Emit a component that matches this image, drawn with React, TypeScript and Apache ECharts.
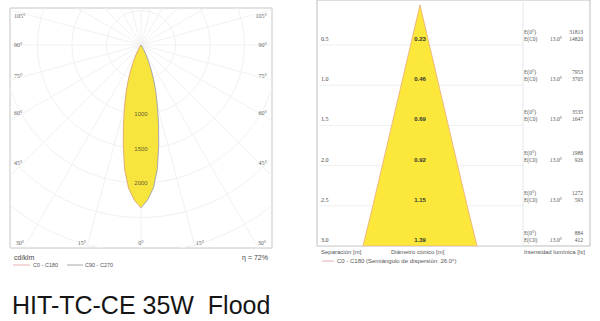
import React, { useEffect, useRef } from 'react';
import * as echarts from 'echarts';

// ---------- Polar (left) data ----------
const lobeAngles = [0, 2.5, 5, 7.5, 10, 12.5, 15, 17.5, 20, 22.5, 25, 27.5, 30, 35, 40];
const lobeC0C180 = [2360, 2250, 2080, 1820, 1480, 1180, 920, 720, 540, 380, 250, 150, 80, 20, 0];
const lobeC90C270 = [2360, 2245, 2075, 1815, 1478, 1178, 918, 718, 538, 378, 248, 148, 78, 18, 0];
const gridCircles = [500, 1000, 1500, 2000, 2500, 3000, 3500];
const radialAngles = [0, 15, 30, 45, 60, 75, 90, 105, 120, 135, 150, 165, 180, 195, 210, 225, 240, 255, 270, 285, 300, 315, 330, 345];
const radialTickLabels = [1000, 1500, 2000];
const sideAngleLabels = ['105°', '90°', '75°', '60°', '45°'];
const bottomAngleLabels = ['30°', '15°', '0°', '15°', '30°'];
const efficiencyLabel = 'η = 72%';

// ---------- Cone (right) data ----------
const distances = [0.5, 1.0, 1.5, 2.0, 2.5, 3.0];
const diameters = [0.23, 0.46, 0.69, 0.92, 1.15, 1.39];
const illumCenter = [31813, 7953, 3535, 1988, 1272, 884];
const illumEdge = [14820, 3705, 1647, 926, 593, 412];
const beamHalfAngle = [13.0, 13.0, 13.0, 13.0, 13.0, 13.0];
const dispersionAngle = '26.0°';

const title = 'HIT-TC-CE 35W  Flood';

const rad = (a: number) => (a * Math.PI) / 180;

function txt(text: string, x: number, y: number, o: any = {}) {
  const align = o.align ?? 'left';
  const va = o.va ?? 'middle';
  return {
    type: 'text',
    x,
    y,
    silent: true,
    z: o.z ?? 10,
    style: {
      text,
      fill: o.color ?? '#555',
      fontSize: o.size ?? 6,
      fontFamily: o.family ?? 'Liberation Sans',
      fontWeight: o.weight ?? 'normal',
      align,
      textAlign: align,
      verticalAlign: va,
      textVerticalAlign: va,
    },
  };
}

function buildOption(): any {
  // left panel geometry (px)
  const L = { left: 10, top: 8, width: 262, height: 240 };
  const cx = 141;
  const cy = 45;
  const pxPerCd = 34.5 / 500;
  const xHalf = (cx - L.left) / pxPerCd;
  const yTop = (cy - L.top) / pxPerCd;
  const yBot = (L.top + L.height - cy) / pxPerCd;

  // right panel geometry
  const R = { left: 317, top: -5, width: 273, height: 251 };
  const dMin = -0.06;
  const dMax = 3.0;
  const pxPerM = R.height / (dMax - dMin);
  const coneCx = 420;
  const xMinR = -(coneCx - R.left) / pxPerM;
  const xMaxR = (R.left + R.width - coneCx) / pxPerM;
  const sepX = -xMinR; // table separator symmetric to left border

  const rightPts = lobeAngles.map((a, i) => [lobeC90C270[i] * Math.sin(rad(a)), lobeC90C270[i] * Math.cos(rad(a))]);
  const leftPts = lobeAngles.map((a, i) => [-lobeC0C180[i] * Math.sin(rad(a)), lobeC0C180[i] * Math.cos(rad(a))]);

  const hidden = {
    axisLine: { show: false },
    axisTick: { show: false },
    axisLabel: { show: false },
    splitLine: { show: false },
  };

  const graphic: any[] = [];
  // polar angle labels
  const sideY = [16, 45, 76, 113, 163];
  sideAngleLabels.forEach((t, i) => {
    graphic.push(txt(t, 14, sideY[i], { family: 'Liberation Serif', size: 6, color: '#666' }));
    graphic.push(txt(t, 267, sideY[i], { family: 'Liberation Serif', size: 6, color: '#666', align: 'right' }));
  });
  const bottomX = [20, 82, 141, 200, 262];
  bottomAngleLabels.forEach((t, i) => {
    graphic.push(txt(t, bottomX[i], 243, { family: 'Liberation Serif', size: 6, color: '#666', align: 'center' }));
  });
  graphic.push(txt('cd/klm', 14, 257, { size: 7, color: '#444' }));
  graphic.push(txt(efficiencyLabel, 268, 257, { size: 7, color: '#444', align: 'right' }));
  graphic.push({ type: 'line', shape: { x1: 13, y1: 265, x2: 30, y2: 265 }, style: { stroke: '#eab0b0', lineWidth: 1 } });
  graphic.push(txt('C0 - C180', 33, 265, { size: 5.5, color: '#555' }));
  graphic.push({ type: 'line', shape: { x1: 67, y1: 265, x2: 83, y2: 265 }, style: { stroke: '#a8a8b0', lineWidth: 1 } });
  graphic.push(txt('C90 - C270', 85, 265, { size: 5.5, color: '#555' }));

  // right panel captions
  graphic.push(txt('Separación [m]', 321, 252, { size: 6, color: '#555' }));
  graphic.push(txt('Diámetro cónico [m]', 391, 252, { size: 6, color: '#555' }));
  graphic.push(txt('Intensidad lumínica [lx]', 585, 252, { size: 6, color: '#555', align: 'right' }));
  graphic.push({ type: 'line', shape: { x1: 322, y1: 261, x2: 334, y2: 261 }, style: { stroke: '#eab0b0', lineWidth: 1 } });
  graphic.push(txt('C0 - C180 (Semiángulo de dispersión: ' + dispersionAngle + ')', 337, 261, { size: 6, color: '#555' }));

  // title
  graphic.push(txt(title, 12, 305, { size: 25, color: '#151515', family: 'Liberation Sans' }));

  return {
    animation: false,
    backgroundColor: '#ffffff',
    graphic: { elements: graphic },
    grid: [
      { left: L.left, top: L.top, width: L.width, height: L.height, show: true, borderColor: '#c6c6c6', borderWidth: 1, backgroundColor: 'transparent' },
      { left: R.left, top: R.top, width: R.width, height: R.height, show: true, borderColor: '#bdbdbd', borderWidth: 1, backgroundColor: 'transparent' },
    ],
    xAxis: [
      { type: 'value', gridIndex: 0, min: -xHalf, max: xHalf, ...hidden },
      { type: 'value', gridIndex: 1, min: xMinR, max: xMaxR, ...hidden },
    ],
    yAxis: [
      { type: 'value', gridIndex: 0, min: -yTop, max: yBot, inverse: true, ...hidden },
      { type: 'value', gridIndex: 1, min: dMin, max: dMax, inverse: true, ...hidden },
    ],
    series: [
      // polar circles
      {
        type: 'custom',
        xAxisIndex: 0,
        yAxisIndex: 0,
        clip: true,
        silent: true,
        data: gridCircles.map((r) => [r, 0]),
        renderItem: (params: any, api: any) => {
          const c = api.coord([0, 0]);
          const rr = api.size([api.value(0), 0])[0];
          return { type: 'circle', shape: { cx: c[0], cy: c[1], r: rr }, style: { fill: 'none', stroke: '#f1f1f1', lineWidth: 1 } };
        },
      },
      // radial lines
      {
        type: 'custom',
        xAxisIndex: 0,
        yAxisIndex: 0,
        clip: true,
        silent: true,
        data: radialAngles.map((a) => [a, 0]),
        renderItem: (params: any, api: any) => {
          const a = rad(api.value(0));
          const c = api.coord([0, 0]);
          const p = api.coord([4000 * Math.sin(a), 4000 * Math.cos(a)]);
          return { type: 'line', shape: { x1: c[0], y1: c[1], x2: p[0], y2: p[1] }, style: { stroke: '#f1f1f1', lineWidth: 1 } };
        },
      },
      // lobe fill
      {
        type: 'custom',
        xAxisIndex: 0,
        yAxisIndex: 0,
        clip: true,
        silent: true,
        data: [[0, 0]],
        renderItem: (params: any, api: any) => {
          const pts = rightPts.concat(leftPts.slice().reverse()).map((p) => api.coord(p));
          return { type: 'polygon', shape: { points: pts }, style: { fill: '#f7e43c', stroke: 'none' } };
        },
      },
      {
        name: 'C0 - C180',
        type: 'line',
        xAxisIndex: 0,
        yAxisIndex: 0,
        data: leftPts,
        symbol: 'none',
        silent: true,
        lineStyle: { color: '#d99a70', width: 0.8 },
      },
      {
        name: 'C90 - C270',
        type: 'line',
        xAxisIndex: 0,
        yAxisIndex: 0,
        data: rightPts,
        symbol: 'none',
        silent: true,
        lineStyle: { color: '#9096b0', width: 0.8 },
      },
      {
        type: 'scatter',
        xAxisIndex: 0,
        yAxisIndex: 0,
        symbolSize: 0,
        silent: true,
        data: radialTickLabels.map((v) => [0, v]),
        label: {
          show: true,
          position: 'inside',
          formatter: (p: any) => String(p.value[1]),
          fontSize: 6,
          fontFamily: 'Liberation Sans',
          color: '#333',
        },
      },
      // cone
      {
        type: 'custom',
        xAxisIndex: 1,
        yAxisIndex: 1,
        clip: true,
        silent: true,
        data: [[0, 0]],
        renderItem: (params: any, api: any) => {
          const apex = api.coord([api.value(0), api.value(1)]);
          const right = distances.map((d, i) => api.coord([diameters[i] / 2, d]));
          const left = distances.map((d, i) => api.coord([-diameters[i] / 2, d])).reverse();
          const pts = [apex].concat(right, left);
          return { type: 'polygon', shape: { points: pts }, style: { fill: '#fbe83a', stroke: '#eeaa80', lineWidth: 0.8 } };
        },
      },
      // row lines + separator
      {
        type: 'custom',
        xAxisIndex: 1,
        yAxisIndex: 1,
        clip: true,
        silent: true,
        z: 1,
        data: distances.map((d) => [0, d]),
        renderItem: (params: any, api: any) => {
          const d = api.value(1);
          const a = api.coord([xMinR, d]);
          const b = api.coord([sepX, d]);
          const children: any[] = [
            { type: 'line', shape: { x1: a[0], y1: a[1], x2: b[0], y2: b[1] }, style: { stroke: '#efefef', lineWidth: 1 } },
          ];
          if (params.dataIndex === 0) {
            const s1 = api.coord([sepX, dMin]);
            const s2 = api.coord([sepX, dMax]);
            children.push({ type: 'line', shape: { x1: s1[0], y1: s1[1], x2: s2[0], y2: s2[1] }, style: { stroke: '#e8e8e8', lineWidth: 1 } });
          }
          return { type: 'group', children };
        },
      },
      // row texts
      {
        type: 'custom',
        xAxisIndex: 1,
        yAxisIndex: 1,
        clip: false,
        silent: true,
        z: 5,
        data: distances.map((d) => [0, d]),
        renderItem: (params: any, api: any) => {
          const i = params.dataIndex;
          const d = api.value(1);
          const pL = api.coord([xMinR, d]);
          const pC = api.coord([0, d]);
          const pT = api.coord([sepX, d]);
          const y = pC[1];
          const serif = 'Liberation Serif';
          return {
            type: 'group',
            children: [
              txt(distances[i].toFixed(1), pL[0] + 4, y - 6, { family: serif, size: 6, color: '#444' }),
              txt(diameters[i].toFixed(2), pC[0], y - 6, { size: 6, color: '#333', weight: 'bold', align: 'center' }),
              txt('E(0°)', pT[0] + 1, y - 13, { family: serif, size: 5.5, color: '#555' }),
              txt('E(C0)', pT[0] + 1, y - 6, { family: serif, size: 5.5, color: '#555' }),
              txt(beamHalfAngle[i].toFixed(1) + '°', pT[0] + 27, y - 6, { family: serif, size: 5.5, color: '#555' }),
              txt(String(illumCenter[i]), pT[0] + 60, y - 13, { family: serif, size: 5.5, color: '#555', align: 'right' }),
              txt(String(illumEdge[i]), pT[0] + 60, y - 6, { family: serif, size: 5.5, color: '#555', align: 'right' }),
            ],
          };
        },
      },
    ],
  };
}

export default function App() {
  const ref = useRef<HTMLDivElement>(null);
  useEffect(() => {
    if (!ref.current) return;
    const chart = echarts.init(ref.current, null, { renderer: 'svg' });
    chart.setOption(buildOption());
    return () => chart.dispose();
  }, []);
  return (
    <div
      ref={ref}
      style={{ position: 'absolute', left: 0, top: 0, width: 600, height: 321, background: '#fff' }}
    />
  );
}
